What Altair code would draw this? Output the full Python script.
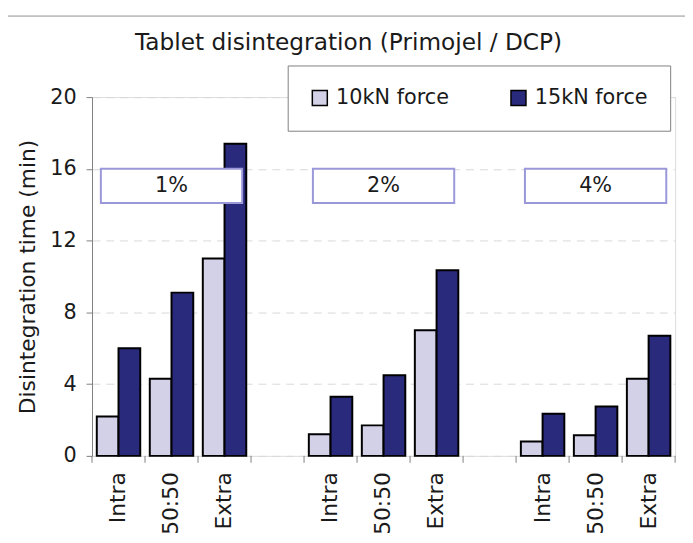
import altair as alt
import pandas as pd

concentrations = ["1%", "2%", "4%"]
methods = ["Intra", "50:50", "Extra"]
series = ["10kN force", "15kN force"]
force_10 = [2.2, 4.3, 11.0, 1.2, 1.7, 7.0, 0.8, 1.15, 4.3]
force_15 = [6.0, 9.1, 17.4, 3.3, 4.5, 10.35, 2.35, 2.75, 6.7]
y_ticks = [0, 4, 8, 12, 16, 20]

# category domain with empty gap slots between concentration groups
cats = []
for i, c in enumerate(concentrations):
    for m in methods:
        cats.append(f"{c}|{m}")
    if i < len(concentrations) - 1:
        cats.append(f"gap{i}")

rows = []
k = 0
for c in concentrations:
    for m in methods:
        rows.append({"cat": f"{c}|{m}", "force": series[0], "time": force_10[k]})
        rows.append({"cat": f"{c}|{m}", "force": series[1], "time": force_15[k]})
        k += 1
df = pd.DataFrame(rows)
boxes = pd.DataFrame({"cat": [f"{c}|{methods[1]}" for c in concentrations],
                      "label": concentrations})
ticks_df = pd.DataFrame({"cat": cats})

FONT = "DejaVu Sans"
TXT = "#1a1a1a"
XLAB = 22
xscale = alt.Scale(domain=cats, paddingInner=0, paddingOuter=0)
LABEL_EXPR = "indexof(datum.value,'|')>=0 ? split(datum.value,'|')[1] : ''"
xaxis = alt.Axis(labelExpr=LABEL_EXPR, labelAngle=-90, ticks=False, tickSize=0,
                 labelPadding=16, domain=False, grid=False, labelFontSize=XLAB,
                 labelFont=FONT, labelColor=TXT, labelLimit=200, title=None)


def xenc(**kw):
    return alt.X("cat:N", scale=xscale, sort=cats, axis=xaxis, title=None, **kw)


bars = alt.Chart(df).mark_bar(stroke="black", strokeWidth=2).encode(
    x=xenc(),
    xOffset=alt.XOffset("force:N", sort=series,
                        scale=alt.Scale(paddingInner=0, paddingOuter=0.22)),
    y=alt.Y("time:Q", scale=alt.Scale(domain=[0, 20], nice=False),
            title="Disintegration time (min)",
            axis=alt.Axis(values=y_ticks, grid=True)),
    color=alt.Color("force:N", sort=series,
                    scale=alt.Scale(domain=series, range=["#D3D1E8", "#2A2A7C"]),
                    legend=alt.Legend(orient="none", legendX=198, legendY=-32,
                                      direction="horizontal", title=None,
                                      symbolType="square", symbolSize=230,
                                      symbolStrokeColor="black", symbolStrokeWidth=1.5,
                                      labelFontSize=21, labelFont=FONT, labelColor=TXT,
                                      fillColor="white", strokeColor="#808080",
                                      padding=22, columnPadding=58, labelOffset=6)),
)

box = alt.Chart(boxes).mark_bar(width=143, fill="white", stroke="#9A98D8",
                                 strokeWidth=2).encode(
    x=xenc(),
    y=alt.datum(16.0),
    y2=alt.datum(14.1),
)
box_text = alt.Chart(boxes).mark_text(fontSize=21, font=FONT, color=TXT).encode(
    x=xenc(),
    y=alt.datum(15.05),
    text="label:N",
)

xticks = alt.Chart(ticks_df).mark_rule(color="#808080").encode(
    x=xenc(bandPosition=0),
    y=alt.value(363), y2=alt.value(370),
)
xtick_end = alt.Chart(ticks_df.tail(1)).mark_rule(color="#808080").encode(
    x=xenc(bandPosition=1),
    y=alt.value(363), y2=alt.value(370),
)

border_top = alt.Chart(ticks_df.head(1)).mark_rule(color="#909090").encode(
    x=alt.value(-86), x2=alt.value(620), y=alt.value(-82))
border_left = alt.Chart(ticks_df.head(1)).mark_rule(color="#909090").encode(
    x=alt.value(-86), y=alt.value(-82), y2=alt.value(460))

chart = alt.layer(border_top, border_left, bars, box, box_text, xticks, xtick_end).properties(
    width=590, height=363,
    title=alt.TitleParams("Tablet disintegration (Primojel / DCP)", fontSize=23.5,
                          font=FONT, fontWeight="normal", color=TXT,
                          anchor="start", dx=130, offset=-58, baseline="alphabetic"),
    autosize=alt.AutoSizeParams(type="none"),
    padding={"left": 85, "top": 87, "right": 10, "bottom": 85},
).configure_view(stroke="#808080", strokeWidth=1).configure(
    background="white"
).configure_axis(
    labelFont=FONT, titleFont=FONT, labelColor=TXT, titleColor=TXT,
    titleFontWeight="normal", domainColor="#808080", tickColor="#808080",
).configure_axisX(
    labelFontSize=XLAB,
).configure_axisY(
    labelFontSize=21, titleFontSize=22, tickSize=6, labelPadding=10,
    titlePadding=10, gridColor="#D9D9D9", gridDash=[8, 6],
)

chart.save("out.html", embed_options={"renderer": "svg", "actions": False})
